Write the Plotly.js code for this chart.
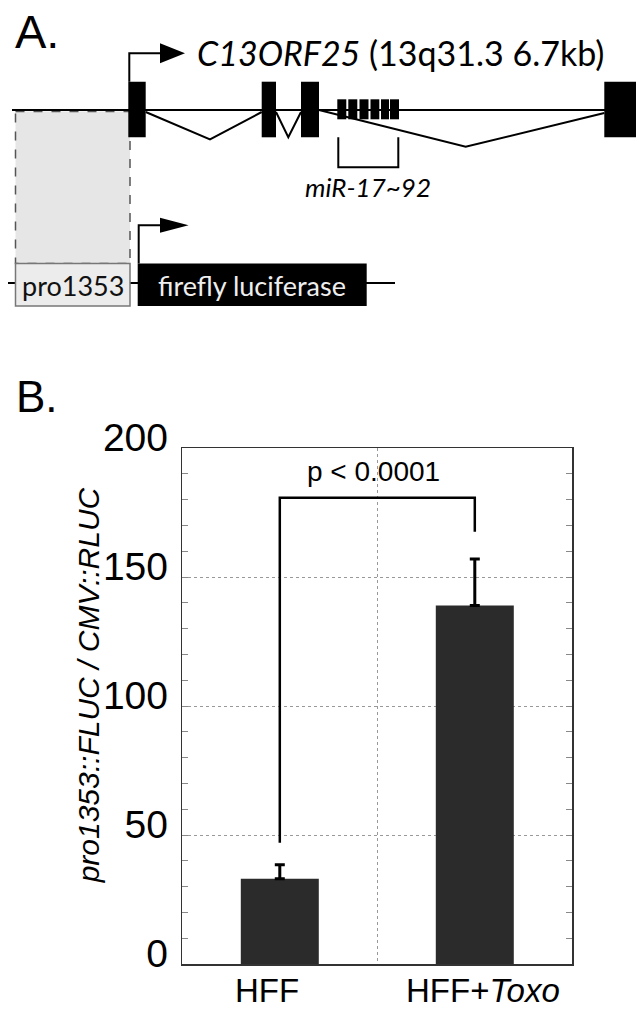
<!DOCTYPE html>
<html><head><meta charset="utf-8">
<script src="https://cdn.plot.ly/plotly-3.0.1.min.js"></script>
<style>html,body{margin:0;padding:0;background:#fff;}#chart{width:636px;height:1011px;}</style>
</head><body><div id="chart"></div>
<script>
// ---------- Panel B data ----------
const categories = ['HFF', 'HFF+Toxo'];
const categoryLabels = ['HFF', 'HFF+<i>Toxo</i>'];
const labelShift = [-13, 8];
const ratioValues = [33, 139];
const ratioErrors = [5.5, 18];
const bracketX = ['HFF', 'HFF', 'HFF+Toxo', 'HFF+Toxo'];
const bracketY = [47, 180.7, 180.7, 167.5];
const pValueText = 'p < 0.0001';
const yTitle = '<i>pro1353::FLUC / CMV::RLUC</i>';

// ---------- Panel A diagram (diagram units) ----------
const backboneX = [12, 640];
const backboneY = 110;
const exonStart = [128.3, 261.7, 301, 604.3];
const exonEnd = [145.7, 276, 319, 660];
const exonTop = 81.7, exonBottom = 137.3;
const mirStart = [337.3, 348.3, 359.5, 370.5, 381, 390];
const mirEnd = [346.3, 357.3, 368.5, 379.3, 389, 399];
const mirTop = 99.3, mirBottom = 119.3;
const intronX = [[145.7, 210, 261.7], [276, 288.3, 301], [319, 465.7, 604.3]];
const intronY = [[112, 139.3, 112], [112, 137.3, 112], [110, 146.7, 113]];
const mirBracketX = [338.3, 398.3];
const mirBracketY = [137.3, 167.3];
const promoterBox = {x: [15.5, 130], y: [111.5, 263.5], bottom: 306};
const reporterBox = {x: [137.7, 366.7], y: [263.5, 306]};
const reporterLine = {x: [8, 395], y: 283};
const tss1 = {x: 129.3, y0: 81.7, y1: 53.3, headX: [160, 185], headH: 10};
const tss2 = {x: 138.7, y0: 263.5, y1: 225.3, headX: [160, 188.6], headH: 7.5};
const geneTitle = '<i>C13ORF25</i> (13q31.3 6.7kb)';
const mirLabel = '<i>miR-17~92</i>';

const shapes = [];
const X2 = 'x2', Y2 = 'y2';
function line(x0, y0, x1, y1, w, color, dash) {
  shapes.push({type: 'line', xref: X2, yref: Y2, x0, y0, x1, y1,
    line: {color: color || '#000', width: w || 2, dash: dash || 'solid'}});
}
function rect(x0, x1, y0, y1, fill, lc, lw, dash) {
  shapes.push({type: 'rect', xref: X2, yref: Y2, x0, x1, y0, y1, fillcolor: fill,
    line: {color: lc || fill, width: lw === undefined ? 0 : lw, dash: dash || 'solid'}});
}
function path(xs, ys, w, fill) {
  let d = xs.map((x, i) => (i ? 'L' : 'M') + x + ',' + ys[i]).join(' ');
  if (fill) d += ' Z';
  shapes.push({type: 'path', xref: X2, yref: Y2, path: d, fillcolor: fill || 'rgba(0,0,0,0)',
    line: {color: '#000', width: fill ? 0 : (w || 2)}});
}

// promoter shaded region (dashed) and reporter line
rect(promoterBox.x[0], promoterBox.x[1], promoterBox.y[0], promoterBox.y[1], '#e6e6e6', '#555', 1.5, 'dash');
line(reporterLine.x[0], reporterLine.y, reporterLine.x[1], reporterLine.y, 2);
rect(promoterBox.x[0], promoterBox.x[1], promoterBox.y[1], promoterBox.bottom, '#ececec', '#777', 1.5);
rect(reporterBox.x[0], reporterBox.x[1], reporterBox.y[0], reporterBox.y[1], '#000');
// gene backbone
line(backboneX[0], backboneY, backboneX[1], backboneY, 2);
// introns
intronX.forEach((xs, i) => path(xs, intronY[i], 2));
// exons
exonStart.forEach((s, i) => rect(s, exonEnd[i], exonTop, exonBottom, '#000'));
// miRNA cluster
mirStart.forEach((s, i) => rect(s, mirEnd[i], mirTop, mirBottom, '#000'));
// miRNA bracket
path([mirBracketX[0], mirBracketX[0], mirBracketX[1], mirBracketX[1]],
     [mirBracketY[0], mirBracketY[1], mirBracketY[1], mirBracketY[0]], 2);
// TSS arrows
[tss1, tss2].forEach(t => {
  path([t.x, t.x, t.headX[0]], [t.y0, t.y1, t.y1], 2);
  path([t.headX[0], t.headX[1], t.headX[0]], [t.y1 - t.headH, t.y1, t.y1 + t.headH], 0, '#000');
});

const AF = 'Lato, "Open Sans", sans-serif';
const HF = '"Liberation Sans", Arial, sans-serif';
const annotations = [
  {xref: 'paper', yref: 'paper', x: 13 / 636, y: 1 - 31 / 1011, text: 'A.', showarrow: false,
   xanchor: 'left', yanchor: 'middle', font: {family: HF, size: 47, color: '#000'}},
  {xref: 'paper', yref: 'paper', x: 14 / 636, y: 1 - 396 / 1011, text: 'B.', showarrow: false,
   xanchor: 'left', yanchor: 'middle', font: {family: HF, size: 44, color: '#000'}},
  {xref: X2, yref: Y2, x: 195, y: 52, text: geneTitle, showarrow: false, xanchor: 'left', yanchor: 'middle',
   font: {family: AF, size: 34, color: '#000'}},
  {xref: X2, yref: Y2, x: 367.5, y: 187, text: mirLabel, showarrow: false, xanchor: 'center', yanchor: 'middle',
   font: {family: AF, size: 26, color: '#000'}},
  {xref: X2, yref: Y2, x: 72.5, y: 285, text: 'pro1353', showarrow: false, xanchor: 'center', yanchor: 'middle',
   font: {family: AF, size: 27, color: '#111'}},
  {xref: X2, yref: Y2, x: 251.7, y: 285, text: 'firefly luciferase', showarrow: false, xanchor: 'center', yanchor: 'middle',
   font: {family: AF, size: 27, color: '#eeeeee'}},
  {xref: 'x', yref: 'y', x: 0.48, y: 191, text: pValueText, showarrow: false, xanchor: 'center', yanchor: 'middle',
   font: {family: HF, size: 28, color: '#000'}},
  {xref: 'paper', yref: 'y', x: 88 / 636, y: 108, text: yTitle, textangle: -90, showarrow: false,
   xanchor: 'center', yanchor: 'middle', font: {family: HF, size: 30, color: '#000'}}
];
categories.forEach((c, i) => annotations.push({
  xref: 'x', yref: 'y', x: c, y: 0, text: categoryLabels[i], showarrow: false,
  xanchor: 'center', yanchor: 'top', xshift: labelShift[i], yshift: -6,
  font: {family: HF, size: 33, color: '#000'}
}));

const traces = [
  {type: 'bar', x: categories, y: ratioValues, width: 0.4, marker: {color: '#2b2b2b', line: {width: 0}},
   error_y: {type: 'data', array: ratioErrors, arrayminus: [0, 0], symmetric: false, color: '#000', thickness: 3, width: 5},
   hoverinfo: 'skip', showlegend: false},
  {type: 'scatter', mode: 'lines', x: bracketX, y: bracketY, line: {color: '#000', width: 2.5},
   hoverinfo: 'skip', showlegend: false},
  {type: 'scatter', mode: 'markers', x: [0], y: [0], xaxis: 'x2', yaxis: 'y2',
   marker: {opacity: 0}, hoverinfo: 'skip', showlegend: false}
];

const layout = {
  width: 636, height: 1011, margin: {l: 0, r: 0, t: 0, b: 0},
  paper_bgcolor: '#fff', plot_bgcolor: 'rgba(0,0,0,0)', showlegend: false,
  xaxis: {domain: [182.3 / 636, 572.3 / 636], type: 'category', range: [-0.5, 1.5],
    showline: true, linecolor: '#333', linewidth: 1.5, mirror: true,
    showgrid: true, tickson: 'boundaries', gridcolor: '#999', griddash: 'dot', gridwidth: 1,
    ticks: '', showticklabels: false, zeroline: false, fixedrange: true},
  yaxis: {domain: [47 / 1011, 563 / 1011], range: [0, 200], tickvals: [0, 50, 100, 150, 200],
    showline: true, linecolor: '#333', linewidth: 1.5, mirror: 'ticks',
    ticks: 'inside', ticklen: 6, tickcolor: '#888', tickwidth: 1,
    minor: {dtick: 10, tick0: 0, ticks: 'inside', ticklen: 6, tickcolor: '#888', tickwidth: 1, showgrid: false},
    showgrid: true, gridcolor: '#999', griddash: 'dot', gridwidth: 1, zeroline: false,
    tickfont: {family: HF, size: 39, color: '#000'}, ticklabelshift: -11, ticklabelstandoff: 5,
    fixedrange: true},
  xaxis2: {domain: [0, 1], range: [0, 636], anchor: 'y2', visible: false, fixedrange: true},
  yaxis2: {domain: [1 - 330 / 1011, 1], range: [330, 0], anchor: 'x2', visible: false, fixedrange: true},
  shapes: shapes, annotations: annotations
};
Plotly.newPlot('chart', traces, layout, {staticPlot: true, displayModeBar: false});
</script></body></html>
